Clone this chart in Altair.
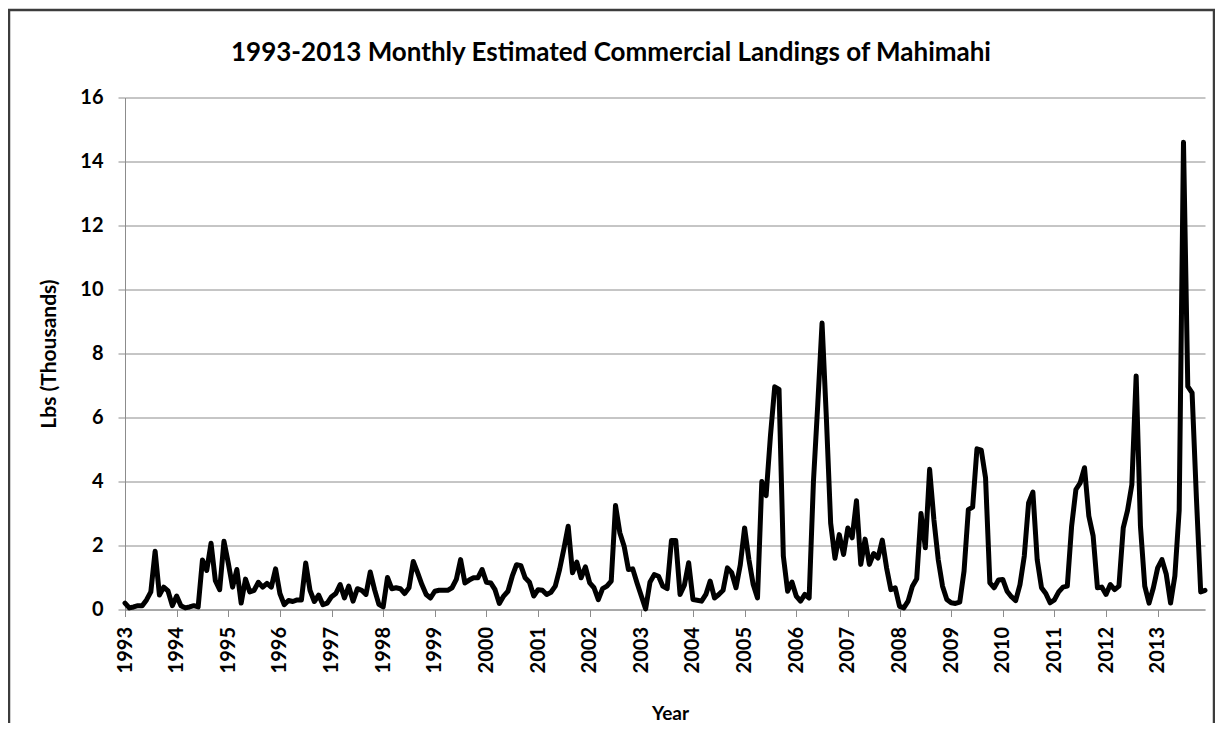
import altair as alt
import pandas as pd

# ---- data (thousands of lbs, monthly Jan..Dec) ----
YEARS = [str(y) for y in range(1993, 2014)]

Y1993 = [0.2, 0.05, 0.08, 0.12, 0.12, 0.3, 0.55, 1.82, 0.45, 0.7, 0.58, 0.12]
Y1994 = [0.42, 0.12, 0.05, 0.08, 0.12, 0.08, 1.55, 1.22, 2.07, 0.9, 0.62, 2.13]
Y1995 = [1.45, 0.7, 1.25, 0.2, 0.95, 0.55, 0.6, 0.85, 0.7, 0.82, 0.7, 1.27]
Y1996 = [0.5, 0.15, 0.28, 0.25, 0.3, 0.3, 1.45, 0.6, 0.25, 0.45, 0.15, 0.2]
Y1997 = [0.4, 0.5, 0.78, 0.36, 0.73, 0.26, 0.65, 0.6, 0.47, 1.17, 0.62, 0.16]
Y1998 = [0.08, 1.0, 0.65, 0.68, 0.65, 0.5, 0.68, 1.5, 1.15, 0.78, 0.47, 0.36]
Y1999 = [0.57, 0.6, 0.6, 0.6, 0.68, 0.94, 1.56, 0.83, 0.92, 0.99, 0.99, 1.25]
Y2000 = [0.85, 0.83, 0.62, 0.19, 0.42, 0.57, 1.04, 1.4, 1.37, 0.99, 0.85, 0.42]
Y2001 = [0.62, 0.6, 0.47, 0.54, 0.73, 1.25, 1.9, 2.6, 1.15, 1.48, 0.99, 1.33]
Y2002 = [0.83, 0.68, 0.31, 0.65, 0.73, 0.89, 3.25, 2.4, 1.98, 1.25, 1.27, 0.83]
Y2003 = [0.42, 0.02, 0.85, 1.09, 1.04, 0.73, 0.65, 2.16, 2.16, 0.47, 0.76, 1.46]
Y2004 = [0.31, 0.29, 0.26, 0.47, 0.89, 0.36, 0.47, 0.6, 1.3, 1.15, 0.68, 1.4]
Y2005 = [2.55, 1.56, 0.78, 0.36, 4.0, 3.56, 5.42, 6.96, 6.88, 1.67, 0.57, 0.86]
Y2006 = [0.42, 0.26, 0.47, 0.36, 4.0, 6.4, 8.95, 6.0, 2.7, 1.6, 2.34, 1.72]
Y2007 = [2.55, 2.24, 3.4, 1.41, 2.2, 1.41, 1.75, 1.61, 2.17, 1.3, 0.62, 0.68]
Y2008 = [0.1, 0.05, 0.26, 0.73, 0.96, 3.0, 1.93, 4.38, 2.8, 1.56, 0.73, 0.31]
Y2009 = [0.21, 0.19, 0.23, 1.2, 3.12, 3.2, 5.02, 4.98, 4.11, 0.83, 0.68, 0.92]
Y2010 = [0.94, 0.57, 0.4, 0.28, 0.78, 1.67, 3.33, 3.67, 1.56, 0.68, 0.5, 0.21]
Y2011 = [0.3, 0.55, 0.7, 0.73, 2.6, 3.75, 3.96, 4.43, 2.92, 2.3, 0.68, 0.7]
Y2012 = [0.47, 0.78, 0.62, 0.73, 2.55, 3.1, 3.9, 7.3, 2.6, 0.73, 0.2, 0.68]
Y2013 = [1.3, 1.56, 1.1, 0.2, 1.05, 3.1, 14.6, 6.97, 6.77, 3.5, 0.55, 0.6]

SERIES = [Y1993, Y1994, Y1995, Y1996, Y1997, Y1998, Y1999, Y2000, Y2001, Y2002,
          Y2003, Y2004, Y2005, Y2006, Y2007, Y2008, Y2009, Y2010, Y2011, Y2012, Y2013]

Y_TICKS = [0, 2, 4, 6, 8, 10, 12, 14, 16]
TITLE = "1993-2013 Monthly Estimated Commercial Landings of Mahimahi"

rows = []
for yi, vals in enumerate(SERIES):
    for m, v in enumerate(vals):
        rows.append({"month": yi * 12 + m, "lbs": v})
df = pd.DataFrame(rows)

n_months = len(rows)
x_ticks = [i * 12 for i in range(len(YEARS))]
label_expr = "[" + ",".join("'%s'" % y for y in YEARS) + "][round(datum.value/12)]"

FONT = "Lato"
GRID = "#8c8c8c"

line = alt.Chart(df).mark_line(
    color="black", strokeWidth=5, strokeJoin="round", strokeCap="round"
).encode(
    x=alt.X(
        "month:Q",
        scale=alt.Scale(domain=[0, n_months - 1], nice=False, zero=False),
        axis=alt.Axis(
            values=x_ticks,
            labelExpr=label_expr,
            labelAngle=270,
            labelFont=FONT, labelFontSize=20, labelFontWeight="bold", labelColor="black",
            labelPadding=10, tickSize=7, tickColor=GRID, domainColor=GRID,
            grid=False,
            title="Year", titleFont=FONT, titleFontSize=19, titleFontWeight="bold",
            titleColor="black", titleX=545, titleY=104, titleBaseline="middle",
            titleAlign="center",
        ),
    ),
    y=alt.Y(
        "lbs:Q",
        scale=alt.Scale(domain=[0, 16], nice=False),
        axis=alt.Axis(
            values=Y_TICKS,
            labelFont=FONT, labelFontSize=20, labelFontWeight="bold", labelColor="black",
            labelPadding=15, tickSize=7, tickColor=GRID, domainColor=GRID,
            grid=True, gridColor=GRID, gridWidth=1,
            title="Lbs (Thousands)", titleFont=FONT, titleFontSize=21,
            titleFontWeight="bold", titleColor="black", titleAngle=270,
            titleX=-76, titleY=256, titleBaseline="middle", titleAlign="center",
        ),
    ),
)

one = pd.DataFrame({"a": [0]})

border = alt.Chart(one).mark_rect(
    fill="white", fillOpacity=0, stroke="#3c3c3c", strokeWidth=2.5
).encode(
    x=alt.value(-116), x2=alt.value(1089), y=alt.value(-87.5), y2=alt.value(800)
)

title = alt.Chart(one).mark_text(
    text=TITLE, font=FONT, fontSize=26, fontWeight="bold", color="black",
    align="center", baseline="alphabetic"
).encode(x=alt.value(486), y=alt.value(-36.5))

chart = alt.layer(border, line, title).properties(
    width=1080,
    height=512,
    autosize=alt.AutoSizeParams(type="none"),
    padding={"left": 117, "top": 89.5, "right": 10, "bottom": 113},
    background="white",
).configure_view(stroke="transparent")

chart.save("out.html", embed_options={"renderer": "svg", "actions": False})
